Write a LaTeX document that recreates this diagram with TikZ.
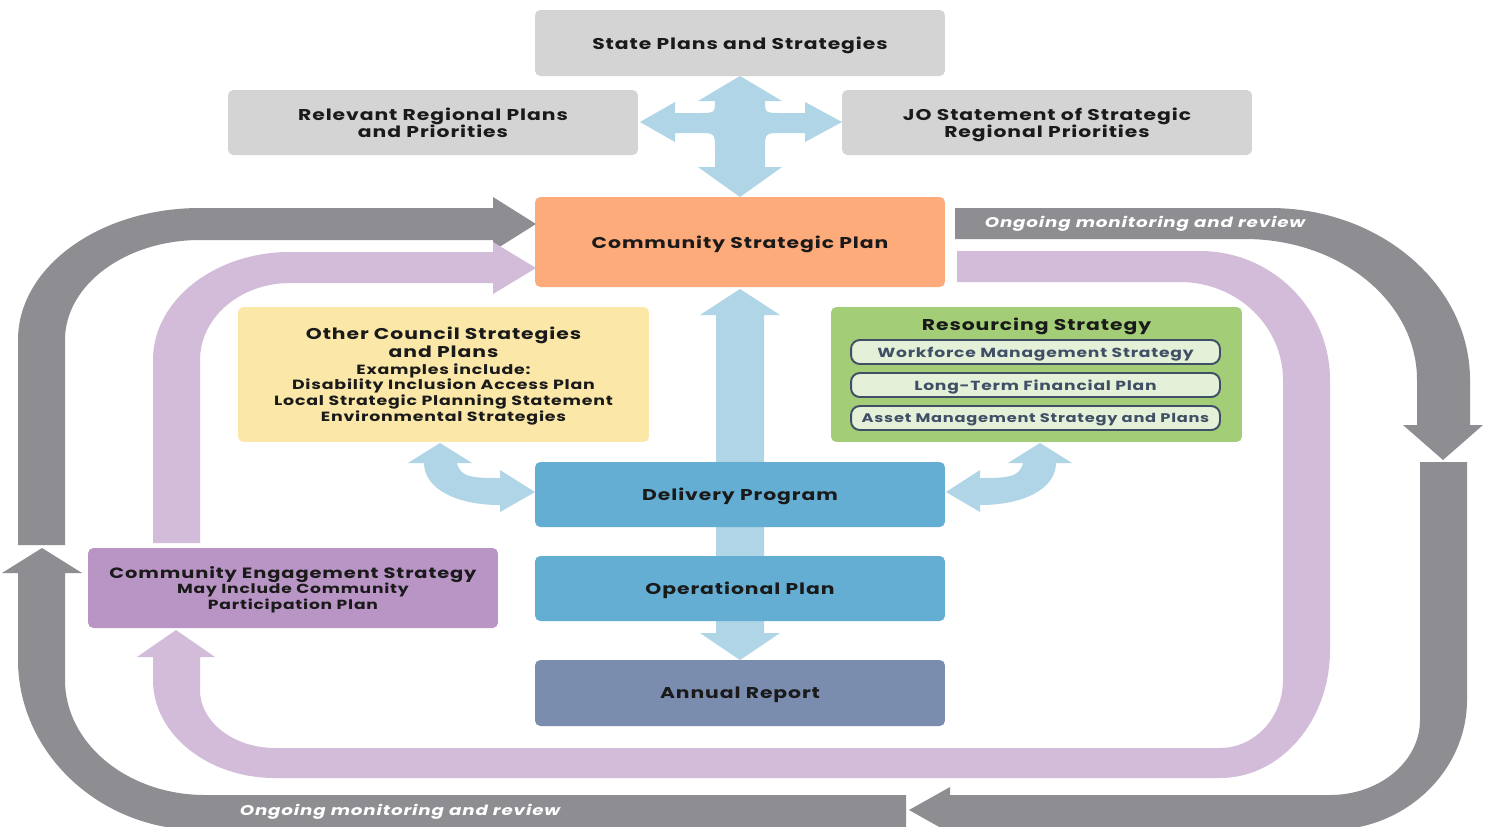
\documentclass[tikz,border=0pt]{standalone}
\usepackage{fontspec}
\setmainfont{Poppins}
\newfontfamily\lab{Poppins}[LetterSpace=6, FakeStretch=1.3]
\newcommand\bodyf{\fontsize{7.6}{9.07}\selectfont}
\newcommand\cestitle{\fontsize{8.5}{9.07}\selectfont}
\newcommand\cesbody{\fontsize{7.5}{9.07}\selectfont}
\definecolor{greybox}{HTML}{D4D4D4}
\definecolor{cspfill}{HTML}{FDAB7A}
\definecolor{yellowbox}{HTML}{FBE8A8}
\definecolor{greenbox}{HTML}{A3CD76}
\definecolor{greeninner}{HTML}{E4F0D8}
\definecolor{slate}{HTML}{3F4F66}
\definecolor{bluebox}{HTML}{65AED3}
\definecolor{annualfill}{HTML}{7B8DAF}
\definecolor{purplebox}{HTML}{B995C5}
\definecolor{flowblue}{HTML}{AFD5E7}
\definecolor{loopgrey}{HTML}{8E8E92}
\definecolor{looppurple}{HTML}{D3BBDA}
\definecolor{ink}{HTML}{1A1A1A}
\begin{document}
\begin{tikzpicture}[x=0.02cm, y=-0.02cm,
  box/.style={rounded corners=3pt, inner sep=0pt, align=center, text=ink, text depth=0pt,
    minimum width=8.2cm, font=\lab\bfseries\fontsize{8.9}{9.07}\selectfont},
  subbox/.style={rounded corners=5pt, draw=slate, line width=1.1pt, fill=greeninner,
    inner sep=0pt, minimum width=7.38cm, minimum height=0.48cm, text=slate, text depth=0pt,
    font=\lab\bfseries\fontsize{7.5}{7.5}\selectfont},
  monitor/.style={text=white, inner sep=0pt, text depth=0pt,
    font=\lab\bfseries\itshape\fontsize{8.0}{8.0}\selectfont},
  flow/.style={fill=flowblue},
  greyband/.style={fill=loopgrey},
  purpleband/.style={fill=looppurple}]
\clip (0,0) rectangle (1491,826);
\fill[white] (0,0) rectangle (1491,826);

% ---- outer review loop (grey) ----
\path[greyband] (18,545) -- (18,340) .. controls (18,267) and (99.5,208) .. (200,208)
  -- (493,208) -- (493,197) -- (536,224) -- (493,251) -- (493,240) -- (200,240)
  .. controls (125.5,240) and (65,284.8) .. (65,340) -- (65,545) -- cycle;
\path[greyband] (955,208) -- (1270,208) .. controls (1380.4,208) and (1470,285) .. (1470,380)
  -- (1470,425) -- (1483,425) -- (1443,460) -- (1403,425) -- (1417,425) -- (1417,380)
  .. controls (1417,302) and (1340.5,239) .. (1245,239) -- (955,239) -- cycle;
\path[greyband] (1420,462) -- (1467,462) -- (1467,700) .. controls (1467,770.7) and (1405.6,830) .. (1330,830)
  -- (950,830) -- (950,833) -- (909,810) -- (950,787) -- (950,795) -- (1330,795)
  .. controls (1379.7,795) and (1420,761.4) .. (1420,720) -- cycle;
\path[greyband] (906,795) -- (205,795) .. controls (127.7,795) and (65,743.5) .. (65,680)
  -- (65,573) -- (82,573) -- (42,548) -- (2,573) -- (18,573) -- (18,660)
  .. controls (18,752.7) and (99.5,830) .. (200,830) -- (906,830) -- cycle;

% ---- engagement loop (purple) ----
\path[purpleband] (153,543) -- (153,360) .. controls (153,300.4) and (214.4,252) .. (290,252)
  -- (493,252) -- (493,242) -- (536,268) -- (493,294) -- (493,283) -- (290,283)
  .. controls (240.3,283) and (200,317.5) .. (200,360) -- (200,543) -- cycle;
\path[purpleband] (957,251) -- (1200,251) .. controls (1271.8,251) and (1330,308.8) .. (1330,380)
  -- (1330,650) .. controls (1330,720.7) and (1280.7,778) .. (1220,778)
  -- (275,778) .. controls (207.7,778) and (153,734.1) .. (153,680)
  -- (153,657) -- (137,657) -- (176,630) -- (215,657) -- (200,657) -- (200,690)
  .. controls (200,722) and (233.6,748) .. (275,748) -- (1220,748)
  .. controls (1254.8,748) and (1283,717.5) .. (1283,680) -- (1283,380)
  .. controls (1283,325.9) and (1236.9,282) .. (1180,282) -- (957,282) -- cycle;

% ---- blue flow arrows ----
\path[flow] (740,76) -- (782,101) -- (765,101) .. controls (765,113) .. (782,113)
  -- (805,113) -- (805,102) -- (842,122) -- (805,142) -- (805,133) -- (782,133)
  .. controls (765,133) .. (765,150) -- (765,167) -- (782,167) -- (740,197) -- (698,167)
  -- (715,167) -- (715,150) .. controls (715,133) .. (698,133) -- (675,133) -- (675,142)
  -- (640,122) -- (675,102) -- (675,113) -- (698,113) .. controls (715,113) .. (715,101)
  -- (698,101) -- cycle;
\path[flow] (740,289) -- (780,315) -- (764,315) -- (764,633) -- (780,633) -- (740,660)
  -- (700,633) -- (716,633) -- (716,315) -- (700,315) -- cycle;
\path[flow] (440,443) -- (472,463) -- (457,463) .. controls (460,478) and (475,478) .. (500,478)
  -- (500,470) -- (535,492) -- (500,512) -- (500,505) .. controls (455,505) and (424,488) .. (424,463)
  -- (408,463) -- cycle;
\begin{scope}[shift={(1480,0)}, xscale=-1]
\path[flow] (440,443) -- (472,463) -- (457,463) .. controls (460,478) and (475,478) .. (500,478)
  -- (500,470) -- (534,492) -- (500,512) -- (500,505) .. controls (455,505) and (424,488) .. (424,463)
  -- (408,463) -- cycle;
\end{scope}

% ---- plan boxes ----
\node[box, fill=greybox, minimum height=1.32cm] (state) at (740,43) {State Plans and Strategies};
\node[box, fill=greybox, minimum height=1.30cm] (regional) at (433,122.5)
  {Relevant Regional Plans\\[-1pt]and Priorities};
\node[box, fill=greybox, minimum height=1.30cm] (jo) at (1047,122.5)
  {JO Statement of Strategic\\[-1pt]Regional Priorities};
\node[box, fill=cspfill, minimum height=1.80cm] (csp) at (740,242) {Community Strategic Plan};
\node[box, fill=yellowbox, minimum height=2.70cm, minimum width=8.22cm] (other) at (443.5,374.5)
  {Other Council Strategies\\[1.1pt]and Plans\\[0.3pt]
   \bodyf Examples include:\\\bodyf Disability Inclusion Access Plan\\
   \bodyf Local Strategic Planning Statement\\\bodyf Environmental Strategies};
\node[box, fill=greenbox, minimum height=2.70cm, minimum width=8.22cm] (res) at (1036.5,374.5) {};
\node[box, fill=none, minimum width=0pt] (restitle) at (1036.5,324) {Resourcing Strategy};
\node[subbox] (workforce) at (1035.5,352) {Workforce Management Strategy};
\node[subbox] (ltfp) at (1035.5,385) {Long-Term Financial Plan};
\node[subbox, font=\lab\bfseries\fontsize{7.1}{7.1}\selectfont] (asset) at (1035.5,418) {Asset Management Strategy and Plans};
\node[box, fill=bluebox, minimum height=1.30cm] (delivery) at (740,494.5) {Delivery Program};
\node[box, fill=bluebox, minimum height=1.30cm] (operational) at (740,588.5) {Operational Plan};
\node[box, fill=annualfill, minimum height=1.32cm] (annual) at (740,693) {Annual Report};
\node[box, fill=purplebox, minimum height=1.60cm] (ces) at (293,588)
  {\cestitle Community Engagement Strategy\\[0pt]
   \cesbody May Include Community\\\cesbody Participation Plan};

% ---- loop captions ----
\node[monitor] (monitortop) at (1145,222) {Ongoing monitoring and review};
\node[monitor] (monitorbottom) at (400,810) {Ongoing monitoring and review};
\end{tikzpicture}
\end{document}
